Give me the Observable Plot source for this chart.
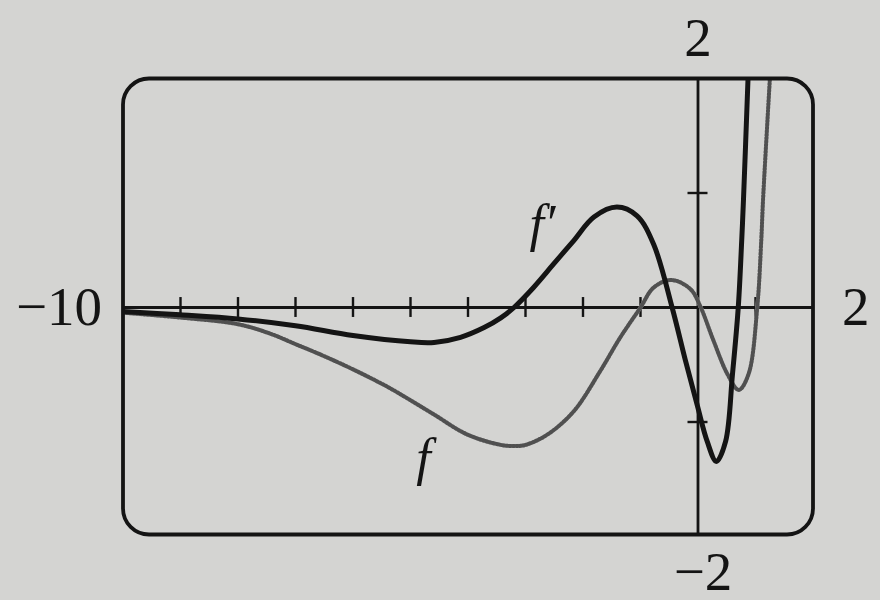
<!DOCTYPE html>
<html>
<head>
<meta charset="utf-8">
<script src="https://cdn.jsdelivr.net/npm/d3@7"></script>
<script src="https://cdn.jsdelivr.net/npm/@observablehq/plot@0.6"></script>
<style>
  html, body { margin: 0; padding: 0; background: #d4d4d2; }
  #chart { width: 880px; height: 600px; }
  #chart svg, #chart svg text, #chart svg g { font-family: "Liberation Serif", "Times New Roman", serif !important; }
</style>
</head>
<body>
<div id="chart"></div>
<script>
// Window: x in [-10, 2], y in [-2, 2]
const xDomain = [-10, 2];
const yDomain = [-2, 2];
const xTicks = [-9, -8, -7, -6, -5, -4, -3, -2, -1, 1];
const yTicks = [-1, 1];

// f' (thick solid curve)
const fpX = [-10, -9, -8, -7, -6, -5, -4.59, -4.13, -3.72, -3.43, -3.2, -2.86, -2.51, -2.16, -1.81, -1.41, -1.06, -0.77, -0.45, -0.22, -0.01, 0.16, 0.32, 0.48, 0.60, 0.70, 0.76, 0.79, 0.87];
const fpY = [-0.035, -0.064, -0.10, -0.16, -0.245, -0.30, -0.305, -0.26, -0.175, -0.09, 0, 0.175, 0.38, 0.585, 0.79, 0.877, 0.80, 0.55, 0, -0.46, -0.86, -1.17, -1.345, -1.17, -0.58, 0, 0.585, 0.93, 2.0];

// f (dotted grey curve)
const fX = [-10, -9, -8, -7.43, -7, -6.57, -6, -5.41, -5, -4.59, -4.01, -3.43, -3.2, -3.0, -2.62, -2.16, -1.70, -1.35, -1.0, -0.77, -0.46, -0.13, 0.04, 0.27, 0.51, 0.71, 0.88, 1.03, 1.10, 1.13, 1.25];
const fY = [-0.045, -0.088, -0.146, -0.23, -0.32, -0.41, -0.54, -0.69, -0.81, -0.935, -1.11, -1.20, -1.21, -1.20, -1.11, -0.906, -0.555, -0.26, 0, 0.175, 0.24, 0.16, 0.01, -0.29, -0.58, -0.72, -0.58, 0, 0.585, 0.93, 2.0];

// window labels and curve labels
const windowLabels = ["\u221210", "2", "2", "\u22122"]; // xmin, xmax, ymax, ymin
const curveNames = ["f\u2032", "f"];
const curveLabelX = [-2.93, -4.9];
const curveLabelY = [0.585, -1.46];

const fpData = fpX.map((x, i) => ({x, y: fpY[i]}));
const fData = fX.map((x, i) => ({x, y: fY[i]}));
const tickHalfY = 0.087;
const tickHalfX = 0.174;

const ink = "#141414";
const fontName = "Liberation Serif";

const chart = Plot.plot({
  width: 880,
  height: 600,
  marginLeft: 122.5,
  marginRight: 67.5,
  marginTop: 78,
  marginBottom: 64,
  x: {domain: xDomain, axis: null},
  y: {domain: yDomain, axis: null},
  style: {background: "transparent", color: ink},
  marks: [
    // axes
    Plot.ruleY([0], {stroke: ink, strokeWidth: 2.8}),
    Plot.ruleX([0], {stroke: ink, strokeWidth: 2.8}),
    Plot.ruleX(xTicks, {x: d => d, y1: -tickHalfY, y2: tickHalfY, stroke: ink, strokeWidth: 2.4}),
    Plot.ruleY(yTicks, {y: d => d, x1: -tickHalfX, x2: tickHalfX, stroke: ink, strokeWidth: 2.4}),
    // f: dotted grey curve
    Plot.line(fData, {x: "x", y: "y", curve: "catmull-rom", stroke: "#b4b4b4", strokeWidth: 4, clip: true}),
    Plot.line(fData, {x: "x", y: "y", curve: "catmull-rom", stroke: "#505050", strokeWidth: 4, strokeDasharray: "1.6 1.8", clip: true}),
    // f': thick black curve
    Plot.line(fpData, {x: "x", y: "y", curve: "catmull-rom", stroke: ink, strokeWidth: 5, clip: true}),
    // frame (rounded window)
    Plot.frame({stroke: ink, strokeWidth: 3.8, rx: 26, insetBottom: 2}),
    // window range labels
    Plot.text([windowLabels[0]], {x: xDomain[0], y: 0, text: d => d, textAnchor: "end", dx: -21, fontSize: 55, fontFamily: fontName, fill: ink}),
    Plot.text([windowLabels[1]], {x: xDomain[1], y: 0, text: d => d, textAnchor: "start", dx: 29, fontSize: 55, fontFamily: fontName, fill: ink}),
    Plot.text([windowLabels[2]], {x: 0, y: yDomain[1], text: d => d, textAnchor: "middle", lineAnchor: "bottom", dy: -23, fontSize: 55, fontFamily: fontName, fill: ink}),
    Plot.text([windowLabels[3]], {x: 0, y: yDomain[0], text: d => d, textAnchor: "middle", lineAnchor: "bottom", dx: 5, dy: 53, fontSize: 55, fontFamily: fontName, fill: ink}),
    // curve labels
    Plot.text(curveNames, {x: (d, i) => curveLabelX[i], y: (d, i) => curveLabelY[i], text: d => d, textAnchor: "start", lineAnchor: "bottom", fontSize: 52, fontStyle: "italic", fontFamily: fontName, fill: ink})
  ]
});
document.getElementById("chart").append(chart);
</script>
</body>
</html>
